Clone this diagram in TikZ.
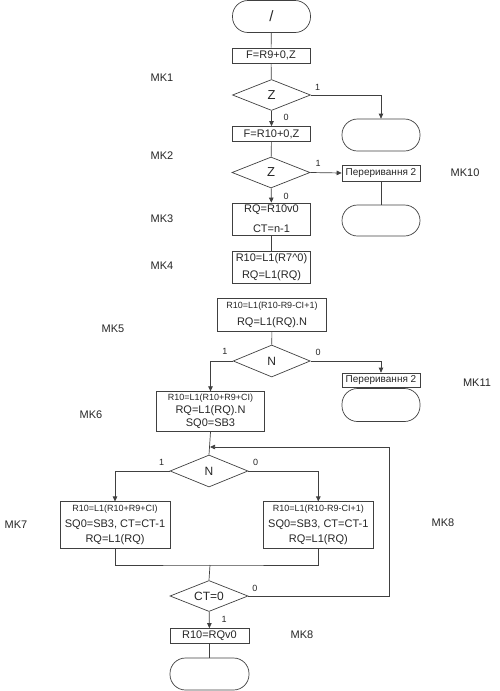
\documentclass[tikz,border=0pt]{standalone}
\usepackage{fontspec}
\setmainfont{Liberation Sans}
\usetikzlibrary{shapes.geometric,arrows.meta}
\newcommand{\fs}[2]{\fontsize{#1}{#2}\selectfont}
\begin{document}
\begin{tikzpicture}[
    x=1pt, y=-1pt,
    >={Triangle[length=5pt,width=4.5pt]},
    line width=0.7pt,
    every node/.style={text=black!85},
    box/.style={
        draw=black!75,
        inner sep=0pt,
        minimum width=78pt,
        minimum height=15pt,
        align=center,
        font=\fs{11}{17}
    },
    term/.style={
        draw=black!75,
        rounded corners=15.5pt,
        inner sep=0pt,
        minimum width=78pt,
        minimum height=32pt
    },
    dec/.style={
        draw=black!75,
        diamond,
        aspect=2.5,
        inner sep=0pt,
        minimum width=78pt,
        minimum height=31pt,
        font=\fs{12}{14}
    },
    lbl/.style={font=\fs{9}{10}},
    mk/.style={font=\fs{11}{12}},
    arr/.style={->, draw=black!75},
    ln/.style={draw=black!75}
]
    \useasboundingbox (0,0) rectangle (500,691);

    % main branch
    \node[term, font=\fs{15}{16}] (start) at (271.5,16.5) {/};
    \node[box] (f1) at (271,55.5) {F=R9+0,Z};
    \node[dec, font=\fs{13}{14}] (d1) at (271.5,95) {Z};
    \node[term] (t1) at (381,135) {};
    \node[box] (f2) at (271.5,134) {F=R10+0,Z};
    \node[dec, font=\fs{13}{14}] (d2) at (271,172.5) {Z};
    \node[box, minimum height=16pt, font=\fs{10}{12}] (p1) at (381,173) {Переривання 2};
    \node[term, minimum height=31pt] (t2) at (381,220.5) {};
    \node[box, minimum height=32pt, font=\fs{11}{20}] (b3) at (271.5,219) {RQ=R10v0\\CT=n-1};
    \node[box, minimum height=32pt] (b4) at (271.5,267) {R10=L1(R7\textasciicircum0)\\RQ=L1(RQ)};
    \node[box, minimum width=109pt, minimum height=33pt] (b5) at (272,314.5)
        {{\fs{9}{10}R10=L1(R10-R9-CI+1)}\\RQ=L1(RQ).N};
    \node[dec, minimum width=77pt, minimum height=32pt] (d3) at (271.7,361) {N};
    \node[box, minimum height=14pt, font=\fs{10}{12}] (p2) at (381,380) {Переривання 2};
    \node[term, minimum height=33pt] (t3) at (381,405) {};
    \node[box, minimum width=108pt, minimum height=40pt, font=\fs{11}{13}] (b6) at (210.5,411.7)
        {{\fs{9}{10}R10=L1(R10+R9+CI)}\\RQ=L1(RQ).N\\SQ0=SB3};
    \node[dec, minimum height=32pt] (d4) at (209,471) {N};
    \node[box, minimum width=110pt, minimum height=47pt, font=\fs{11}{15.5}] (b7) at (115,525.3)
        {{\fs{9}{10}R10=L1(R10+R9+CI)}\\SQ0=SB3, CT=CT-1\\RQ=L1(RQ)};
    \node[box, minimum width=110pt, minimum height=47pt, font=\fs{11}{15.5}] (b8) at (318.3,525.3)
        {{\fs{9}{10}R10=L1(R10-R9-CI+1)}\\SQ0=SB3, CT=CT-1\\RQ=L1(RQ)};
    \node[dec] (d5) at (209,596) {CT=0};
    \node[box, minimum width=79pt] (b9) at (209.5,636) {R10=RQv0};
    \node[term, minimum width=79pt] (t4) at (209.5,674) {};

    \coordinate (j1) at (210,447);
    \coordinate (j2) at (210,565);

    % connectors
    \draw[ln] (start) -- (f1);
    \draw[ln] (f1) -- (d1);
    \draw[arr] (d1.east) -| (t1.north);
    \draw[arr] (d1) -- (f2);
    \draw[ln] (f2) -- (d2);
    \draw[arr] (d2.east) -- (p1.west);
    \draw[ln] (p1) -- (t2);
    \draw[arr] (d2) -- (b3);
    \draw[ln] (b3) -- (b4);
    \draw[ln] (b5) -- (d3);
    \draw[arr] (d3.west) -| (b6.north);
    \draw[arr] (d3.east) -| (p2.north);
    \draw[ln] (p2) -- (t3);
    \draw[ln] (b6.south) -- (d4.north);
    \draw[arr] (d4.west) -| (b7.north);
    \draw[arr] (d4.east) -| (b8.north);
    \draw[ln] (b7.south) |- (j2) -| (b8.south);
    \draw[ln] (j2) -- (d5.north);
    \draw[arr] (d5.east) -- ++(141,0) |- (j1);
    \draw[arr] (d5) -- (b9);
    \draw[ln] (b9) -- (t4);

    % branch labels
    \node[lbl] (l1) at (317.7,87) {1};
    \node[lbl] (l2) at (286,117) {0};
    \node[lbl] (l3) at (318,163) {1};
    \node[lbl] (l4) at (286,196) {0};
    \node[lbl] (l5) at (225,351.7) {1};
    \node[lbl] (l6) at (318,352) {0};
    \node[lbl] (l7) at (161.7,462.7) {1};
    \node[lbl] (l8) at (255.7,462.7) {0};
    \node[lbl] (l9) at (255,588) {0};
    \node[lbl] (l10) at (224,619) {1};

    % microcommand marks
    \node[mk] (mk1) at (162,78) {MK1};
    \node[mk] (mk2) at (162,156) {MK2};
    \node[mk] (mk3) at (162,219) {MK3};
    \node[mk] (mk4) at (162,266) {MK4};
    \node[mk] (mk5) at (113,329) {MK5};
    \node[mk] (mk6) at (91,415) {MK6};
    \node[mk] (mk7) at (16,525) {MK7};
    \node[mk] (mk8a) at (443,523) {MK8};
    \node[mk] (mk8b) at (302,635) {MK8};
    \node[mk] (mk10) at (465,173) {MK10};
    \node[mk] (mk11) at (477,383) {MK11};
\end{tikzpicture}
\end{document}
